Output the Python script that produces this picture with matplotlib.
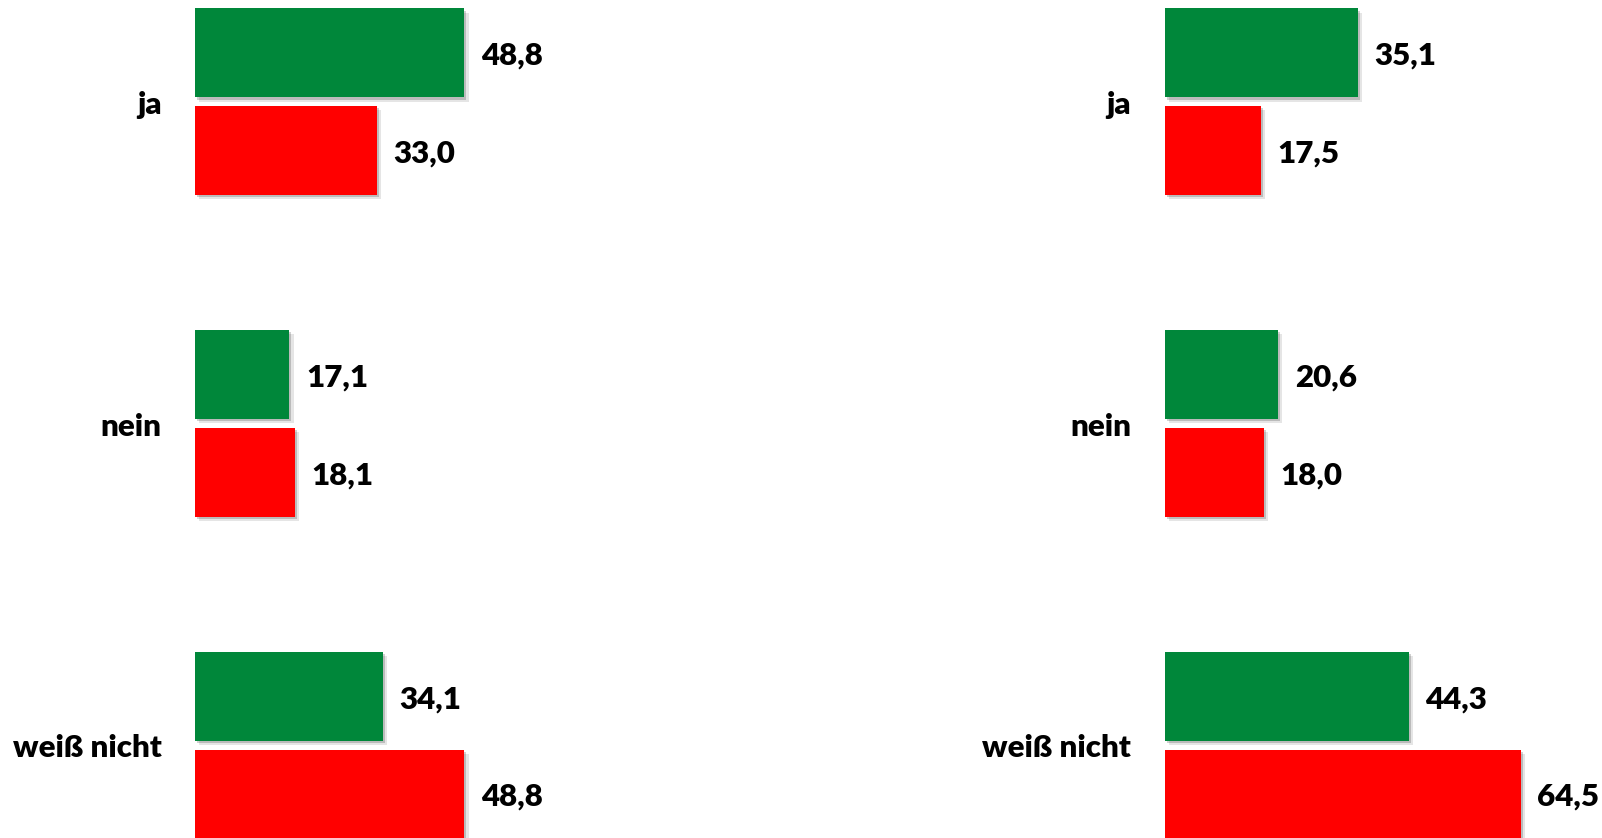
import matplotlib
matplotlib.use("Agg")
import matplotlib.pyplot as plt
import matplotlib.patheffects as pe

categories = ["ja", "nein", "weiß nicht"]
left_green = [48.8, 17.1, 34.1]
left_red = [33.0, 18.1, 48.8]
right_green = [35.1, 20.6, 44.3]
right_red = [17.5, 18.0, 64.5]

GREEN = "#00873A"
RED = "#FF0000"

W, H = 1602, 838
fig = plt.figure(figsize=(W / 100, H / 100), dpi=100)
fig.patch.set_facecolor("white")

PX_PER_UNIT = 5.52
GROUP_PX = 321.8
CENTER0_PX = 101.7
BAR_H = 89.0 / GROUP_PX
OFF = 48.7 / GROUP_PX
FONT = "Lato"
FS = 22.5
FW = "heavy"

shadow = [
    pe.SimplePatchShadow(offset=(1.5, -1.5), shadow_rgbFace="#000000", alpha=0.18),
    pe.SimplePatchShadow(offset=(3.0, -3.0), shadow_rgbFace="#000000", alpha=0.10),
    pe.Normal(),
]


def fmt(v):
    return f"{v:.1f}".replace(".", ",")


def panel(left_px, green, red):
    width_px = W - left_px
    ax = fig.add_axes([left_px / W, 0, width_px / W, 1])
    ax.set_xlim(0, width_px / PX_PER_UNIT)
    y_top = -CENTER0_PX / GROUP_PX
    y_bot = (H - CENTER0_PX) / GROUP_PX
    ax.set_ylim(y_bot, y_top)
    ax.axis("off")
    ys = list(range(len(categories)))
    gy = [y - OFF for y in ys]
    ry = [y + OFF for y in ys]
    bg = ax.barh(gy, green, height=BAR_H, color=GREEN, edgecolor="none")
    br = ax.barh(ry, red, height=BAR_H, color=RED, edgecolor="none")
    for b in list(bg) + list(br):
        b.set_path_effects(shadow)
    for y, v in zip(gy, green):
        ax.annotate(fmt(v), xy=(v, y), xytext=(16.5, -12), textcoords="offset pixels",
                    ha="left", va="baseline", fontsize=FS, fontweight=FW,
                    family=FONT, color="black", annotation_clip=False)
    for y, v in zip(ry, red):
        ax.annotate(fmt(v), xy=(v, y), xytext=(16.5, -12), textcoords="offset pixels",
                    ha="left", va="baseline", fontsize=FS, fontweight=FW,
                    family=FONT, color="black", annotation_clip=False)
    for y, c in zip(ys, categories):
        ax.annotate(c, xy=(0, y), xytext=(-33.5, -12), textcoords="offset pixels",
                    ha="right", va="baseline", fontsize=FS, fontweight=FW,
                    family=FONT, color="black", annotation_clip=False)
    return ax


panel(195, left_green, left_red)
panel(1164.5, right_green, right_red)

fig.savefig("out.png", dpi=100, facecolor="white")
